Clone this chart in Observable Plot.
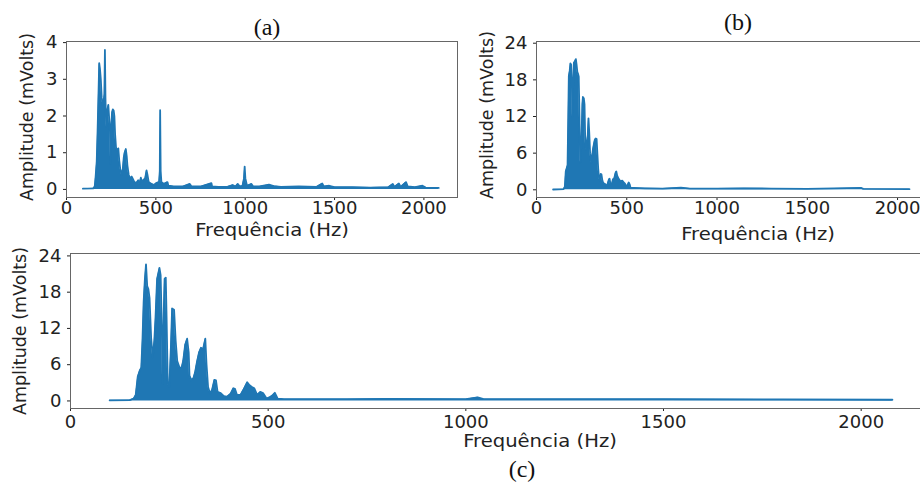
<!DOCTYPE html>
<html>
<head>
<meta charset="utf-8">
<script src="https://cdn.jsdelivr.net/npm/d3@7"></script>
<script src="https://cdn.jsdelivr.net/npm/@observablehq/plot@0.6"></script>
<style>
  html, body { margin: 0; padding: 0; background: #fff; }
  #wrap { position: relative; width: 920px; height: 483px; overflow: hidden; background: #fff; font-family: "DejaVu Sans", sans-serif; }
  .panel { position: absolute; }
  .panel svg { overflow: visible; max-width: none !important; display: block; }
  .title { position: absolute; font-family: "Liberation Serif", serif; font-size: 24px; color: #111; transform: translate(-50%, -50%); white-space: nowrap; line-height: 1; }
  .xlab { position: absolute; font-size: 17.5px; color: #222; transform: translate(-50%, -50%) scaleX(1.12); white-space: nowrap; line-height: 1; }
  .ylab { position: absolute; font-size: 17.5px; color: #222; transform: translate(-50%, -50%) rotate(-90deg); white-space: nowrap; line-height: 1; }
</style>
</head>
<body>
<div id="wrap"></div>
<script>
// ---- texts and ticks ----
const titles = ["(a)", "(b)", "(c)"];
const xLabel = "Frequência (Hz)";
const yLabel = "Amplitude (mVolts)";
const xTicks = [0, 500, 1000, 1500, 2000];
const yTicksA = [0, 1, 2, 3, 4];
const yTicksBC = [0, 6, 12, 18, 24];

// ---- panel (a): spectrum envelope (Hz, mV) ----
const freqA = [92, 150, 158, 163, 169, 174, 179, 183, 187, 192, 197, 203, 208, 212, 215, 218, 222, 226, 230, 234, 238, 243, 247, 251, 255, 259, 264, 268, 272, 277, 283, 290, 295, 301, 308, 315, 320, 325, 332, 337, 341, 348, 356, 365, 372, 380, 392, 401, 408, 416, 422, 429, 440, 448, 453, 460, 476, 490, 504, 518, 522, 524, 527, 531, 545, 565, 570, 600, 650, 690, 700, 750, 811, 815, 850, 900, 930, 945, 958, 970, 985, 993, 997, 1001, 1010, 1035, 1045, 1080, 1133, 1160, 1200, 1300, 1400, 1431, 1440, 1470, 1500, 1600, 1700, 1800, 1826, 1835, 1860, 1870, 1900, 1910, 1950, 1992, 2010, 2083];
const ampA = [0.02, 0.03, 0.08, 0.35, 0.75, 1.6, 2.6, 3.44, 3.3, 3.0, 2.5, 2.3, 2.4, 2.6, 3.8, 2.5, 1.7, 1.9, 2.2, 2.3, 2.0, 1.6, 0.7, 1.8, 2.1, 2.18, 2.15, 2.0, 1.5, 1.15, 1.05, 1.12, 0.8, 0.55, 0.4, 0.55, 0.85, 1.0, 1.1, 0.9, 0.65, 0.4, 0.3, 0.35, 0.28, 0.2, 0.18, 0.25, 0.15, 0.32, 0.2, 0.25, 0.3, 0.52, 0.4, 0.2, 0.15, 0.12, 0.18, 0.2, 0.5, 2.16, 0.5, 0.2, 0.15, 0.2, 0.1, 0.08, 0.08, 0.15, 0.08, 0.08, 0.17, 0.08, 0.07, 0.07, 0.12, 0.08, 0.15, 0.08, 0.1, 0.3, 0.62, 0.3, 0.1, 0.15, 0.08, 0.08, 0.13, 0.09, 0.07, 0.08, 0.07, 0.16, 0.08, 0.1, 0.06, 0.06, 0.05, 0.06, 0.15, 0.07, 0.16, 0.07, 0.2, 0.08, 0.06, 0.1, 0.05, 0.04];

// ---- panel (b) ----
const freqB = [92, 150, 157, 162, 168, 172, 176, 179, 184, 188, 192, 196, 199, 203, 207, 212, 218, 222, 226, 230, 234, 238, 242, 245, 250, 254, 257, 262, 266, 270, 275, 280, 284, 288, 292, 297, 303, 308, 312, 318, 323, 328, 333, 337, 342, 346, 350, 356, 360, 365, 370, 382, 390, 401, 405, 410, 418, 423, 430, 438, 442, 447, 455, 465, 475, 484, 490, 497, 505, 511, 516, 521, 540, 600, 700, 800, 850, 1000, 1150, 1300, 1500, 1800, 1810, 2066];
const ampB = [0.05, 0.1, 0.5, 3.0, 3.6, 4.0, 12, 18.6, 19.5, 20.7, 20.5, 17, 12, 17, 20.8, 21, 21.4, 20.5, 19.3, 19.0, 18.5, 12, 4.5, 5, 9, 14, 15.2, 15, 14, 8, 6.5, 8, 9, 11.7, 9.5, 6, 4.4, 5.5, 6.5, 7.5, 8.2, 8.4, 8.3, 6, 3.4, 2, 1.5, 2.6, 2.5, 1.5, 1.1, 0.9, 0.6, 1.7, 1.8, 0.9, 1.0, 1.7, 1.8, 2.8, 3.0, 2.3, 1.8, 1.4, 1.5, 1.2, 1.0, 0.6, 0.8, 1.2, 0.9, 0.3, 0.3, 0.25, 0.2, 0.35, 0.2, 0.2, 0.25, 0.2, 0.15, 0.3, 0.15, 0.1];

// ---- panel (c) ----
const freqC = [99, 150, 160, 165, 170, 175, 179, 182, 185, 188, 191, 194, 197, 200, 204, 208, 212, 215, 219, 225, 228, 231, 233, 236, 238, 241, 243, 246, 250, 254, 257, 262, 266, 270, 276, 281, 285, 290, 295, 299, 301, 306, 311, 315, 320, 325, 330, 335, 341, 344, 348, 353, 358, 364, 368, 372, 380, 388, 396, 405, 412, 416, 421, 430, 437, 447, 453, 459, 465, 472, 480, 487, 496, 506, 512, 517, 524, 540, 700, 800, 1000, 1030, 1045, 1500, 1800, 2079];
const ampC = [0.1, 0.15, 0.4, 1.0, 4.0, 5.0, 5.5, 10, 16.4, 20, 22.6, 19, 18.5, 17, 10.4, 7.2, 10, 13.7, 20.2, 22.0, 20.8, 12, 2.9, 15, 20.2, 20.4, 14, 2.9, 2.3, 9, 15.3, 15.1, 10, 6.6, 5.5, 5.5, 6.6, 9.3, 10.3, 8, 4.2, 3.4, 3.8, 4.7, 6.5, 8.0, 8.8, 8.5, 10.3, 6.1, 2.3, 1.25, 1.8, 3.5, 3.4, 1.5, 1.3, 0.8, 0.7, 1.2, 2.1, 2.0, 1.0, 1.0, 1.8, 3.1, 2.6, 2.3, 2.1, 1.0, 1.5, 1.3, 0.4, 0.7, 1.0, 1.35, 0.4, 0.3, 0.3, 0.35, 0.3, 0.6, 0.3, 0.3, 0.25, 0.2];

const blue = "#1f77b4";
const wrap = document.getElementById("wrap");

function panel(o) {
  const data = o.freq.map((f, i) => ({f, a: o.amp[i]}));
  const chart = Plot.plot({
    width: o.width, height: o.height,
    marginLeft: o.mL, marginRight: o.mR, marginTop: o.mT, marginBottom: o.mB,
    style: {fontFamily: "DejaVu Sans, sans-serif", fontSize: "18px", color: "#222", background: "transparent"},
    x: {domain: [0, o.xMax], ticks: xTicks, tickFormat: d3.format("d"), tickSize: 3, tickPadding: o.xPad, label: null},
    y: {domain: o.yDomain, ticks: o.yTicks, tickFormat: d3.format("d"), tickSize: 3, tickPadding: 6, label: null},
    marks: [
      Plot.areaY(data, {x: "f", y1: 0, y2: "a", fill: blue, fillOpacity: 1}),
      Plot.lineY(data, {x: "f", y: "a", stroke: blue, strokeWidth: 1.8}),
      Plot.frame({stroke: "#666", strokeWidth: 1})
    ]
  });
  chart.style.maxWidth = "none";
  chart.style.width = o.width + "px";
  chart.style.height = o.height + "px";
  const div = document.createElement("div");
  div.className = "panel";
  div.style.left = o.left + "px";
  div.style.top = o.top + "px";
  div.style.width = o.width + "px";
  div.style.height = o.height + "px";
  div.appendChild(chart);
  wrap.appendChild(div);
}

function label(cls, text, x, y) {
  const d = document.createElement("div");
  d.className = cls;
  d.textContent = text;
  d.style.left = x + "px";
  d.style.top = y + "px";
  wrap.appendChild(d);
}

panel({freq: freqA, amp: ampA, left: 0, top: 0, width: 460, height: 240, mL: 66, mR: 3, mT: 41, mB: 43,
       xMax: 2188, yDomain: [-0.22, 4.03], yTicks: yTicksA, xPad: 1});
panel({freq: freqB, amp: ampB, left: 460, top: 0, width: 480, height: 240, mL: 76, mR: 9, mT: 41, mB: 43,
       xMax: 2188, yDomain: [-1.26, 24.28], yTicks: yTicksBC, xPad: 1});
panel({freq: freqC, amp: ampC, left: 0, top: 230, width: 950, height: 200, mL: 70, mR: 15, mT: 23, mB: 22,
       xMax: 2188, yDomain: [-1.25, 24.4], yTicks: yTicksBC, xPad: 4});

label("title", titles[0], 267, 27);
label("title", titles[1], 738, 22);
label("title", titles[2], 522, 469);
label("xlab", xLabel, 272, 231);
label("xlab", xLabel, 758, 235);
label("xlab", xLabel, 540, 442);
label("ylab", yLabel, 28, 117);
label("ylab", yLabel, 488, 115);
label("ylab", yLabel, 21, 331);
</script>
</body>
</html>
